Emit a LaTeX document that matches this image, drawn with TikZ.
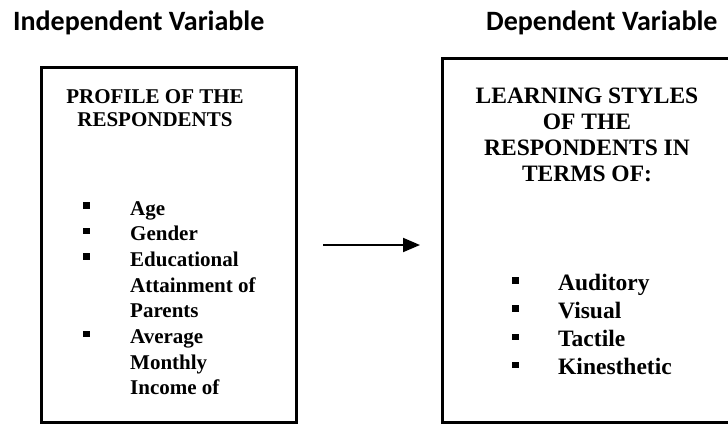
\documentclass[tikz,border=0pt]{standalone}
\usepackage{fontspec}
\setmainfont{Liberation Serif}
\newfontfamily\hdrfont{Carlito}
\usetikzlibrary{arrows.meta}
\newcommand\bulx[1]{\makebox[#1][l]{\rule[6.5pt]{6.5pt}{6.5pt}}}
\begin{document}
\begin{tikzpicture}[x=1pt,y=-1pt,
  hdr/.style={font=\hdrfont\bfseries\fontsize{28}{32}\selectfont, inner sep=0pt, anchor=base west},
  frame/.style={draw=black, line width=2.5pt, anchor=north west, inner sep=0pt},
  txt/.style={inner sep=0pt, font=\bfseries},
  link/.style={line width=2pt, -{Triangle[length=17pt,width=14pt]}}]
\useasboundingbox (0,0) rectangle (728,423);
\clip (0,0) rectangle (728,423);
\fill[white] (0,0) rectangle (728,423);
% headers
\node[hdr] (hIndep) at (13,30) {Independent Variable};
\node[hdr] (hDep) at (486,30) {Dependent Variable};
% boxes
\node[frame, minimum width=255pt, minimum height=355pt] (boxL) at (40,66) {};
\node[frame, minimum width=320pt, minimum height=364pt] (boxR) at (441,57) {};
% left box text
\node[txt, anchor=base] (titleL) at (155,103)
  {\fontsize{21}{23}\selectfont\begin{tabular}[t]{@{}c@{}}PROFILE OF THE\\RESPONDENTS\end{tabular}};
\node[txt, anchor=base west] (listL) at (83,215)
  {\fontsize{21}{25.7}\selectfont\begin{tabular}[t]{@{}l@{}l@{}}
   \bulx{47pt} & Age\\
   \bulx{47pt} & Gender\\
   \bulx{47pt} & Educational\\
   & Attainment of\\
   & Parents\\
   \bulx{47pt} & Average\\
   & Monthly\\
   & Income of
  \end{tabular}};
% right box text
\node[txt, anchor=base] (titleR) at (587,103)
  {\fontsize{23.5}{26}\selectfont\begin{tabular}[t]{@{}c@{}}LEARNING STYLES\\OF THE\\RESPONDENTS IN\\TERMS OF:\end{tabular}};
\node[txt, anchor=base west] (listR) at (512,290)
  {\fontsize{23.5}{28.3}\selectfont\begin{tabular}[t]{@{}l@{}l@{}}
   \bulx{46pt} & Auditory\\
   \bulx{46pt} & Visual\\
   \bulx{46pt} & Tactile\\
   \bulx{46pt} & Kinesthetic
  \end{tabular}};
% arrow
\coordinate (aStart) at (323,245);
\coordinate (aEnd) at (420,245);
\draw[link] (aStart) -- (aEnd);
\end{tikzpicture}
\end{document}
